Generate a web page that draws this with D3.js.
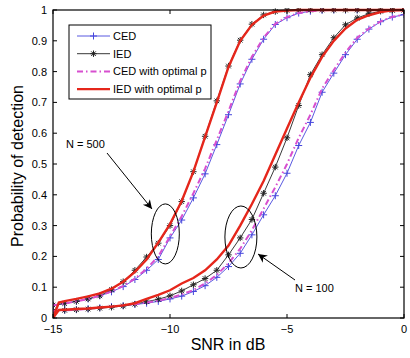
<!DOCTYPE html>
<html>
<head>
<meta charset="utf-8">
<script src="https://cdn.jsdelivr.net/npm/d3@7"></script>
<style>
  body { margin: 0; background: #fff; }
  svg { display: block; font-family: "Liberation Sans", Arial, sans-serif; }
</style>
</head>
<body>
<svg id="chart" width="410" height="358"></svg>
<script>
// SNR grid, -15 dB to 0 dB in 0.5 dB steps
const snr = [-15, -14.5, -14, -13.5, -13, -12.5, -12, -11.5, -11, -10.5, -10, -9.5, -9, -8.5, -8, -7.5,
             -7, -6.5, -6, -5.5, -5, -4.5, -4, -3.5, -3, -2.5, -2, -1.5, -1, -0.5, 0];

// N = 500
const ced500 = [0.041, 0.047, 0.054, 0.062, 0.072, 0.085, 0.102, 0.125, 0.155, 0.19, 0.26, 0.318, 0.39, 0.468, 0.563, 0.66,
                0.76, 0.84, 0.905, 0.953, 0.975, 0.99, 0.996, 0.999, 1, 1, 1, 1, 1, 1, 1];
const ied500 = [0.042, 0.047, 0.054, 0.062, 0.072, 0.092, 0.118, 0.155, 0.198, 0.243, 0.30, 0.378, 0.475, 0.59, 0.705, 0.818,
                0.902, 0.954, 0.984, 0.995, 0.999, 1, 1, 1, 1, 1, 1, 1, 1, 1, 1];
const cedOpt500 = [0.041, 0.047, 0.054, 0.062, 0.072, 0.086, 0.104, 0.128, 0.16, 0.2, 0.265, 0.33, 0.405, 0.485, 0.578, 0.672,
                   0.77, 0.848, 0.91, 0.955, 0.977, 0.99, 0.996, 0.999, 1, 1, 1, 1, 1, 1, 1];
// optimal-p IED curves start from zero at -15 dB
const snrOpt = [-15, -14.75, -14.5, -14, -13.5, -13, -12.5, -12, -11.5, -11, -10.5, -10, -9.5, -9, -8.5, -8, -7.5,
                -7, -6.5, -6, -5.5, -5, -4.5, -4, -3.5, -3, -2.5, -2, -1.5, -1, -0.5, 0];
const iedOpt500 = [0, 0.05, 0.055, 0.062, 0.07, 0.08, 0.095, 0.118, 0.15, 0.19, 0.245, 0.305, 0.38, 0.475, 0.588, 0.70, 0.815,
                   0.90, 0.952, 0.982, 0.995, 0.998, 1, 1, 1, 1, 1, 1, 1, 1, 1, 1];

// N = 100
const ced100 = [0.023, 0.025, 0.027, 0.03, 0.033, 0.037, 0.04, 0.044, 0.048, 0.054, 0.062, 0.071, 0.086, 0.105, 0.132, 0.167,
                0.21, 0.27, 0.335, 0.397, 0.47, 0.56, 0.635, 0.733, 0.795, 0.855, 0.905, 0.938, 0.962, 0.977, 0.985];
const ied100 = [0.023, 0.025, 0.027, 0.029, 0.032, 0.035, 0.039, 0.045, 0.053, 0.061, 0.072, 0.088, 0.108, 0.128, 0.155, 0.205,
                0.26, 0.32, 0.405, 0.49, 0.585, 0.69, 0.79, 0.855, 0.91, 0.952, 0.974, 0.988, 0.996, 0.999, 1];
const cedOpt100 = [0.023, 0.025, 0.027, 0.03, 0.033, 0.037, 0.041, 0.045, 0.05, 0.056, 0.065, 0.076, 0.091, 0.112, 0.14, 0.178,
                   0.225, 0.285, 0.355, 0.425, 0.50, 0.585, 0.66, 0.745, 0.805, 0.862, 0.91, 0.94, 0.963, 0.978, 0.985];
const iedOpt100 = [0, 0.026, 0.027, 0.029, 0.031, 0.034, 0.037, 0.041, 0.048, 0.062, 0.075, 0.09, 0.112, 0.13, 0.155, 0.19, 0.235,
                   0.30, 0.37, 0.445, 0.53, 0.615, 0.70, 0.78, 0.848, 0.90, 0.94, 0.968, 0.983, 0.993, 0.999, 1];

const xTicks = [-15, -10, -5, 0];
const yTicks = [0, 0.1, 0.2, 0.3, 0.4, 0.5, 0.6, 0.7, 0.8, 0.9, 1];
const legendLabels = ["CED", "IED", "CED with optimal p", "IED with optimal p"];

const colBlue = "#4646dc", colBlack = "#222", colMag = "#d74fcf", colRed = "#e5261b";

const svg = d3.select("#chart");
const pLeft = 53, pRight = 404, pTop = 10, pBottom = 318;

const x = d3.scaleLinear().domain([-15, 0]).range([pLeft, pRight]);
const y = d3.scaleLinear().domain([0, 1]).range([pBottom, pTop]);

const plot = svg.append("g");
plot.append("defs").append("clipPath").attr("id", "clip")
    .append("rect").attr("x", pLeft).attr("y", pTop - 2).attr("width", pRight - pLeft).attr("height", pBottom - pTop + 2);

const line = d3.line().x(d => x(d[0])).y(d => y(d[1]));
const pairs = (xs, ys) => xs.map((v, i) => [v, ys[i]]);

function plusPath(s) { return `M${-s},0H${s}M0,${-s}V${s}`; }
function starPath(s) {
    const t = s * 0.72;
    return `M${-s},0H${s}M0,${-s}V${s}M${-t},${-t}L${t},${t}M${-t},${t}L${t},${-t}`;
}

function drawSeries(xs, ys, color, width, dash, marker) {
    const g = plot.append("g").attr("clip-path", "url(#clip)");
    const pts = pairs(xs, ys);
    g.append("path").datum(pts)
        .attr("d", line)
        .attr("fill", "none")
        .attr("stroke", color)
        .attr("stroke-width", width)
        .attr("stroke-dasharray", dash);
    if (marker) {
        g.selectAll(null).data(pts).join("path")
            .attr("transform", d => `translate(${x(d[0])},${y(d[1])})`)
            .attr("d", marker)
            .attr("fill", "none")
            .attr("stroke", color)
            .attr("stroke-width", 1);
    }
}

// same order as the original plot: CED, IED, CED opt, IED opt
drawSeries(snr, ced500, colBlue, 0.9, null, plusPath(3.5));
drawSeries(snr, ced100, colBlue, 0.9, null, plusPath(3.5));
drawSeries(snr, ied500, colBlack, 0.9, null, starPath(3.2));
drawSeries(snr, ied100, colBlack, 0.9, null, starPath(3.2));
drawSeries(snr, cedOpt500, colMag, 2, "6,3,1.5,3", null);
drawSeries(snr, cedOpt100, colMag, 2, "6,3,1.5,3", null);
drawSeries(snrOpt, iedOpt500, colRed, 2.4, null, null);
drawSeries(snrOpt, iedOpt100, colRed, 2.4, null, null);

// axes box with inward ticks on all sides
const axes = svg.append("g").attr("font-size", 11).attr("fill", "#000");
axes.append("rect").attr("x", pLeft).attr("y", pTop).attr("width", pRight - pLeft).attr("height", pBottom - pTop)
    .attr("fill", "none").attr("stroke", "#000").attr("stroke-width", 1.2);

const tickLen = 4;
yTicks.forEach(t => {
    axes.append("line").attr("x1", pLeft).attr("x2", pLeft + tickLen).attr("y1", y(t)).attr("y2", y(t)).attr("stroke", "#000");
    axes.append("line").attr("x1", pRight).attr("x2", pRight - tickLen).attr("y1", y(t)).attr("y2", y(t)).attr("stroke", "#000");
    axes.append("text").attr("x", pLeft - 6).attr("y", y(t) + 4).attr("text-anchor", "end").text(d3.format("~g")(t));
});
xTicks.forEach(t => {
    axes.append("line").attr("x1", x(t)).attr("x2", x(t)).attr("y1", pBottom).attr("y2", pBottom - tickLen).attr("stroke", "#000");
    axes.append("line").attr("x1", x(t)).attr("x2", x(t)).attr("y1", pTop).attr("y2", pTop + tickLen).attr("stroke", "#000");
    axes.append("text").attr("x", x(t)).attr("y", pBottom + 15).attr("text-anchor", "middle")
        .text(t < 0 ? "\u2212" + Math.abs(t) : String(t));
});

svg.append("text").attr("x", 228).attr("y", 350).attr("text-anchor", "middle").attr("font-size", 16).text("SNR in dB");
svg.append("text").attr("transform", "translate(23,166) rotate(-90)").attr("text-anchor", "middle")
    .attr("font-size", 16).text("Probability of detection");

// ellipses around the curves and annotations
const notes = svg.append("g").attr("stroke", "#000").attr("fill", "none").attr("stroke-width", 1);
notes.append("ellipse").attr("cx", x(-10.2)).attr("cy", y(0.273)).attr("rx", 14).attr("ry", 30);
notes.append("ellipse").attr("cx", x(-6.97)).attr("cy", y(0.263)).attr("rx", 16).attr("ry", 31);

svg.append("defs").append("marker").attr("id", "arrow")
    .attr("viewBox", "0 0 10 10").attr("refX", 10).attr("refY", 5)
    .attr("markerWidth", 12).attr("markerHeight", 9).attr("markerUnits", "userSpaceOnUse").attr("orient", "auto")
    .append("path").attr("d", "M0,0L10,5L0,10L3,5Z").attr("fill", "#000");

notes.append("line").attr("x1", 107).attr("y1", 153).attr("x2", 152).attr("y2", 209).attr("marker-end", "url(#arrow)");
notes.append("line").attr("x1", 295).attr("y1", 280).attr("x2", 258).attr("y2", 254).attr("marker-end", "url(#arrow)");

svg.append("text").attr("x", 66).attr("y", 148).attr("font-size", 11).text("N = 500");
svg.append("text").attr("x", 295).attr("y", 292).attr("font-size", 11).text("N = 100");

// legend
const lg = svg.append("g");
lg.append("rect").attr("x", 69).attr("y", 25).attr("width", 142).attr("height", 74)
    .attr("fill", "#fff").attr("stroke", "#000").attr("stroke-width", 1);
const legendStyles = [
    { color: colBlue, width: 0.9, dash: null, marker: plusPath(3.5) },
    { color: colBlack, width: 0.9, dash: null, marker: starPath(3.2) },
    { color: colMag, width: 2, dash: "6,3,1.5,3", marker: null },
    { color: colRed, width: 2.4, dash: null, marker: null }
];
legendLabels.forEach((lab, i) => {
    const ly = 36 + i * 17.7;
    const st = legendStyles[i];
    lg.append("line").attr("x1", 77).attr("x2", 110).attr("y1", ly).attr("y2", ly)
        .attr("stroke", st.color).attr("stroke-width", st.width).attr("stroke-dasharray", st.dash);
    if (st.marker) {
        lg.append("path").attr("transform", `translate(93.5,${ly})`).attr("d", st.marker)
            .attr("fill", "none").attr("stroke", st.color);
    }
    lg.append("text").attr("x", 113).attr("y", ly + 4).attr("font-size", 11).text(lab);
});
</script>
</body>
</html>
